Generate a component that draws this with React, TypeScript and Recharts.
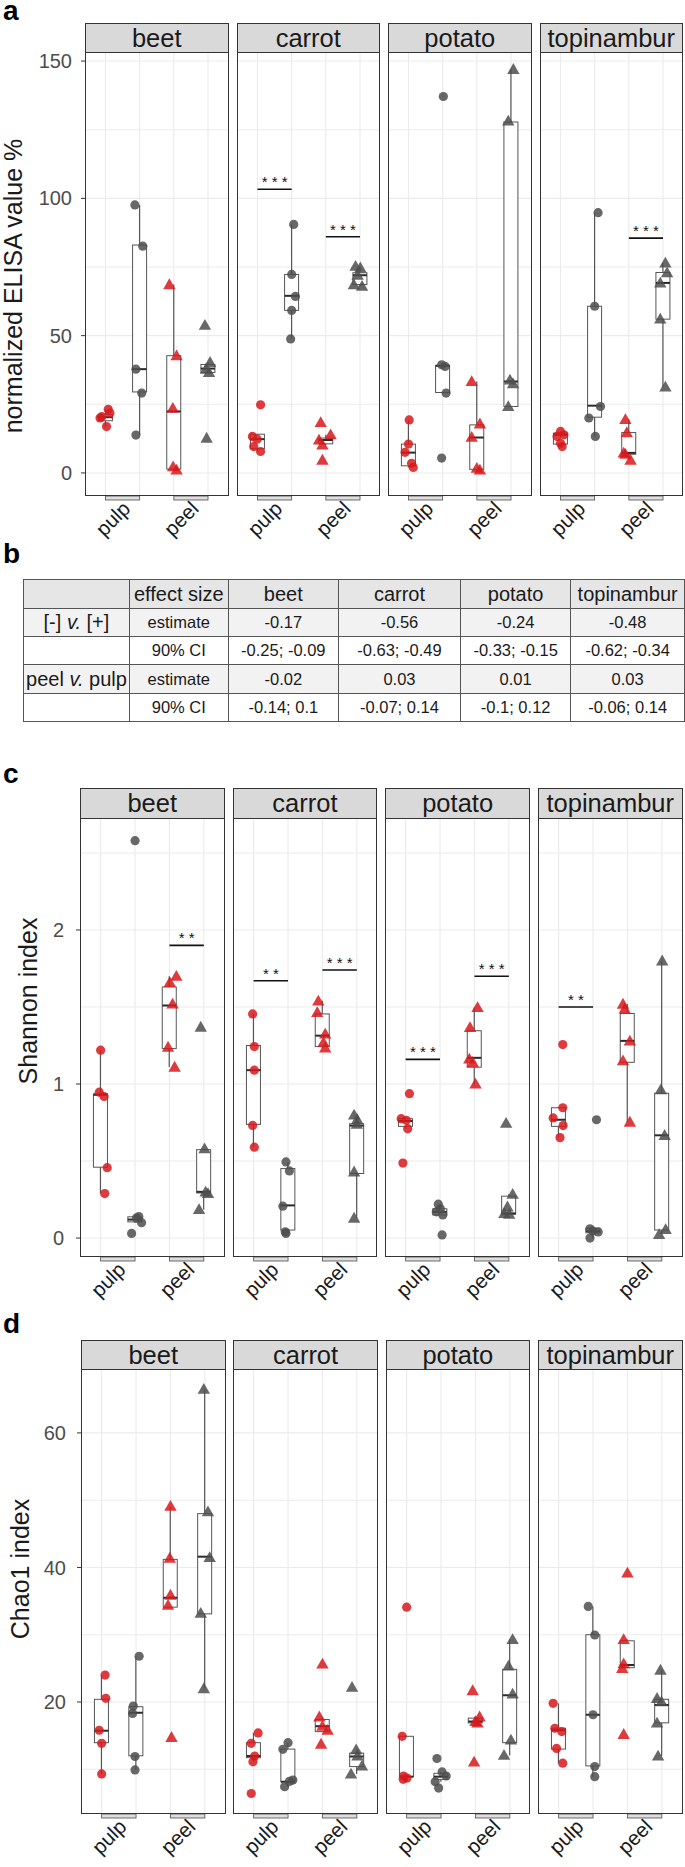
import React from 'react';
import { ComposedChart, Bar, Scatter, XAxis, YAxis, CartesianGrid, ReferenceLine } from 'recharts';

const FONT = '"Liberation Sans", Arial, Helvetica, sans-serif';
const RED = '#d7191c';
const GREY = '#4d4d4d';
const BOX = '#555555';

const facets = ['beet', 'carrot', 'potato', 'topinambur'];
const tissues = ['pulp', 'peel'];
const tissueTicks = [1.5, 3.5];
// x positions inside a facet: pulp [-], pulp [+], peel [-], peel [+]
const positions = [1, 2, 3, 4];

// a: normalized ELISA value %  (facet -> group -> points)
const elisaPoints = [
  [[20.5, 23.2, 21.8, 16.9, 20.0], [97.6, 82.6, 37.8, 29.1, 13.8], [68.6, 42.7, 23.6, 2.3, 1.1], [53.8, 40.3, 37.8, 36.6, 12.7]],
  [[24.8, 13.3, 12.3, 9.6, 7.8], [90.5, 72.3, 64.3, 59.2, 48.8], [18.4, 13.9, 12.0, 10.2, 4.7], [75.3, 74.7, 72.0, 68.6, 68.0]],
  [[19.3, 10.5, 7.5, 3.5, 2.0], [137.1, 39.4, 38.8, 29.1, 5.4], [33.3, 17.9, 13.0, 1.7, 1.1], [147.0, 128.2, 33.9, 32.5, 24.2]],
  [[15.1, 13.9, 13.3, 10.8, 9.6], [94.8, 60.7, 24.2, 20.0, 13.3], [19.5, 14.7, 7.3, 6.8, 4.7], [76.5, 72.9, 69.2, 56.1, 31.3]],
];
const elisaJitter = [
  [[-0.11, 0.08, 0.13, 0.03, -0.16], [-0.14, 0.09, -0.11, 0.06, -0.11], [-0.13, 0.08, -0.03, -0.02, 0.08], [-0.09, 0.06, -0.06, 0.03, -0.04]],
  [[0.09, -0.15, -0.01, -0.11, 0.09], [0.06, 0, 0.11, 0, -0.03], [-0.15, 0.14, -0.2, -0.1, -0.1], [-0.13, 0.01, -0.07, -0.18, 0.06]],
  [[0.02, 0, -0.1, 0.09, 0.14], [0.02, -0.03, 0.07, 0.1, -0.03], [-0.15, 0.09, -0.15, 0, 0.09], [0.07, -0.08, -0.03, 0.06, -0.08]],
  [[0, 0.1, -0.1, 0, 0.05], [0.1, 0, 0.17, -0.17, 0.02], [-0.1, -0.06, -0.15, -0.1, 0.05], [0.07, 0.12, -0.08, -0.08, 0.07]],
];
// [lower whisker, q1, median, q3, upper whisker]
const elisaBoxes = [
  [[16.9, 19.0, 20.3, 21.3, 23.2], [13.8, 29.5, 37.8, 83.0, 97.6], [1.1, 1.4, 22.4, 42.7, 68.6], [36.6, 36.6, 38.0, 39.5, 40.3]],
  [[7.8, 8.8, 12.3, 14.1, 14.2], [48.8, 59.2, 64.5, 72.3, 90.5], [10.2, 10.6, 12.0, 12.7, 13.9], [68.0, 68.6, 72.0, 72.9, 75.3]],
  [[2.0, 2.6, 7.4, 10.5, 19.3], [29.3, 29.3, 39.0, 39.2, 39.4], [1.1, 1.3, 12.9, 17.5, 33.3], [24.2, 24.2, 33.3, 127.8, 147.0]],
  [[9.6, 10.5, 13.9, 14.5, 15.1], [13.3, 20.3, 24.5, 60.7, 94.8], [4.7, 6.8, 7.3, 14.7, 19.5], [31.3, 56.0, 69.2, 73.0, 76.5]],
];
const elisaSig = [
  { facet: 1, from: 1, to: 2, y: 103.3, stars: '* * *' },
  { facet: 1, from: 3, to: 4, y: 86, stars: '* * *' },
  { facet: 3, from: 3, to: 4, y: 85.5, stars: '* * *' },
];

// c: Shannon index
const shannonPoints = [
  [[1.22, 0.947, 0.919, 0.457, 0.289], [2.58, 0.14, 0.13, 0.10, 0.03], [1.70, 1.66, 1.52, 1.24, 1.11], [1.37, 0.58, 0.30, 0.29, 0.186]],
  [[1.455, 1.243, 1.09, 0.731, 0.59], [0.494, 0.436, 0.207, 0.041, 0.03], [1.54, 1.465, 1.325, 1.27, 1.234], [0.80, 0.77, 0.74, 0.43, 0.13]],
  [[0.937, 0.775, 0.764, 0.71, 0.487], [0.22, 0.19, 0.17, 0.15, 0.02], [1.497, 1.368, 1.163, 1.141, 1.0], [0.746, 0.285, 0.203, 0.16, 0.155]],
  [[1.256, 0.846, 0.78, 0.73, 0.652], [0.768, 0.06, 0.045, 0.04, 0.0], [1.519, 1.487, 1.28, 1.152, 0.753], [1.80, 0.963, 0.667, 0.056, 0.024]],
];
const shannonJitter = [
  [[0, -0.04, 0.1, 0.19, 0.12], [0, 0.11, 0.04, 0.19, -0.1], [0.2, 0.01, 0.09, -0.04, 0.15], [-0.09, 0.02, 0.05, 0.12, -0.14]],
  [[-0.03, 0.02, 0.02, -0.03, 0.02], [-0.06, 0.04, -0.15, -0.08, -0.06], [-0.12, -0.15, 0.08, 0.03, 0.08], [-0.08, 0.01, 0, -0.08, -0.08]],
  [[0.11, -0.13, 0.02, 0.06, -0.08], [-0.05, 0.01, -0.11, 0.08, 0.06], [0.09, -0.13, -0.15, -0.05, 0.03], [-0.08, 0.11, -0.04, -0.13, 0.01]],
  [[0.12, 0.12, -0.16, 0.13, 0.04], [0.1, -0.09, 0, 0.15, -0.09], [-0.13, -0.08, 0.07, -0.13, 0.07], [0.01, -0.03, 0.08, 0.11, -0.08]],
];
const shannonBoxes = [
  [[0.289, 0.46, 0.93, 0.936, 1.22], [0.10, 0.105, 0.12, 0.138, 0.14], [1.11, 1.23, 1.51, 1.63, 1.70], [0.186, 0.293, 0.30, 0.574, 0.58]],
  [[0.59, 0.738, 1.09, 1.25, 1.455], [0.03, 0.052, 0.212, 0.451, 0.494], [1.234, 1.243, 1.314, 1.455, 1.54], [0.13, 0.419, 0.73, 0.742, 0.80]],
  [[0.71, 0.725, 0.76, 0.775, 0.78], [0.15, 0.15, 0.17, 0.19, 0.22], [1.0, 1.109, 1.17, 1.346, 1.497], [0.155, 0.155, 0.16, 0.272, 0.285]],
  [[0.652, 0.725, 0.768, 0.846, 0.85], [0.0, 0.034, 0.045, 0.063, 0.065], [0.753, 1.141, 1.28, 1.458, 1.519], [0.024, 0.052, 0.667, 0.94, 1.80]],
];
const shannonSig = [
  { facet: 0, from: 3, to: 4, y: 1.9, stars: '* *' },
  { facet: 1, from: 1, to: 2, y: 1.67, stars: '* *' },
  { facet: 1, from: 3, to: 4, y: 1.74, stars: '* * *' },
  { facet: 2, from: 1, to: 2, y: 1.16, stars: '* * *' },
  { facet: 2, from: 3, to: 4, y: 1.7, stars: '* * *' },
  { facet: 3, from: 1, to: 2, y: 1.5, stars: '* *' },
];

// d: Chao1 index
const chaoPoints = [
  [[24.0, 20.55, 15.8, 13.86, 9.3], [26.8, 19.4, 18.3, 11.9, 9.9], [49.1, 41.4, 35.9, 34.4, 14.75], [66.5, 48.3, 41.5, 33.2, 22.0]],
  [[15.4, 13.86, 11.97, 11.1, 6.4], [13.95, 12.96, 8.4, 8.2, 7.4], [25.65, 17.8, 16.4, 15.8, 13.75], [22.2, 12.9, 12.0, 10.5, 9.3]],
  [[34.1, 14.9, 9.0, 8.7, 8.5], [11.6, 9.6, 9.0, 8.15, 7.2], [21.7, 17.8, 17.1, 16.9, 11.1], [29.3, 25.35, 21.2, 14.35, 12.1]],
  [[19.8, 16.1, 15.6, 13.1, 10.9], [34.2, 29.96, 18.1, 10.4, 8.9], [39.2, 29.3, 25.7, 25.0, 15.2], [24.75, 20.55, 20.05, 16.9, 11.97]],
];
const chaoJitter = [
  [[0.1, 0.12, -0.07, 0, 0], [0.09, -0.08, -0.1, -0.03, -0.03], [0, -0.02, 0, -0.07, 0.03], [-0.03, 0.09, 0.14, -0.12, -0.03]],
  [[0.13, -0.07, 0.03, -0.02, -0.07], [0, -0.15, 0.14, 0.04, -0.1], [0, -0.09, 0, 0.15, -0.04], [-0.14, -0.02, 0.02, 0.15, -0.17]],
  [[0, -0.13, -0.09, 0.01, -0.1], [-0.12, 0.03, 0.15, -0.17, -0.07], [-0.08, 0.12, 0, 0.06, -0.04], [0.08, -0.04, 0.08, 0.03, -0.17]],
  [[-0.16, -0.11, 0.09, -0.06, 0.12], [-0.14, 0.05, 0, 0.05, 0.05], [0, -0.11, -0.11, -0.15, -0.11], [-0.04, -0.14, -0.01, -0.14, -0.11]],
];
const chaoBoxes = [
  [[9.3, 13.95, 15.73, 20.4, 24.0], [9.9, 12.0, 18.4, 19.3, 26.8], [34.1, 34.1, 35.5, 41.2, 49.1], [22.0, 33.1, 41.6, 48.0, 66.5]],
  [[11.1, 11.72, 11.97, 13.95, 15.4], [7.4, 8.15, 8.15, 13.0, 13.95], [15.6, 15.6, 16.4, 17.4, 17.8], [9.3, 10.4, 11.9, 12.4, 12.9]],
  [[8.5, 8.9, 8.9, 14.9, 15.0], [8.15, 8.5, 8.9, 9.4, 9.6], [16.9, 16.9, 17.1, 17.6, 17.8], [12.1, 13.95, 21.0, 24.85, 29.3]],
  [[10.9, 13.0, 15.8, 16.1, 19.8], [8.9, 10.5, 18.1, 30.0, 34.2], [25.0, 25.1, 25.5, 29.1, 29.3], [11.97, 16.9, 19.55, 20.4, 24.75]],
];
const chaoSig: { facet: number; from: number; to: number; y: number; stars: string }[] = [];

// b: effect size table
const tableHeader = ['', 'effect size', 'beet', 'carrot', 'potato', 'topinambur'];
const diffEstimate = ['-0.17', '-0.56', '-0.24', '-0.48'];
const diffCI = ['-0.25; -0.09', '-0.63; -0.49', '-0.33; -0.15', '-0.62; -0.34'];
const tissueEstimate = ['-0.02', '0.03', '0.01', '0.03'];
const tissueCI = ['-0.14; 0.1', '-0.07; 0.14', '-0.1; 0.12', '-0.06; 0.14'];

const X_AXIS_H = 62;
const Y_AXIS_W = 60;
const TOP_PAD = 12;

const panels = [
  {
    letter: 'a', letterY: 20, title: 'normalized ELISA value %', titleX: 22, titleY: 286,
    stripTop: 23, plotTop: 52, plotBottom: 496, lefts: [85, 236.5, 388, 539.5], facetW: 143.5,
    domain: [-8.4, 153.3], ticks: [0, 50, 100, 150], minor: [25, 75, 125], tickMargin: 9,
    points: elisaPoints, jitter: elisaJitter, boxes: elisaBoxes, sig: elisaSig,
  },
  {
    letter: 'c', letterY: 783, title: 'Shannon index', titleX: 36.5, titleY: 1001,
    stripTop: 788, plotTop: 818, plotBottom: 1257, lefts: [80, 232.7, 385.4, 538], facetW: 144.5,
    domain: [-0.123, 2.727], ticks: [0, 1, 2], minor: [0.5, 1.5, 2.5], tickMargin: 12,
    points: shannonPoints, jitter: shannonJitter, boxes: shannonBoxes, sig: shannonSig,
  },
  {
    letter: 'd', letterY: 1333, title: 'Chao1 index', titleX: 29, titleY: 1569,
    stripTop: 1340, plotTop: 1369, plotBottom: 1814, lefts: [81, 233.3, 385.6, 538], facetW: 144.5,
    domain: [3.35, 69.5], ticks: [20, 40, 60], minor: [10, 30, 50], tickMargin: 11,
    points: chaoPoints, jitter: chaoJitter, boxes: chaoBoxes, sig: chaoSig,
  },
];

const BoxShape = (props: any) => {
  const { x, y, width, height, payload } = props;
  const { lo, q1, med, q3, hi } = payload;
  const top = Math.min(y, y + height);
  const h = Math.abs(height);
  const span = hi - lo || 1;
  const py = (v: number) => top + ((hi - v) / span) * h;
  const cx = x + width / 2;
  return (
    <g>
      <line x1={cx} x2={cx} y1={py(hi)} y2={py(lo)} stroke={BOX} strokeWidth={1.2} />
      <rect x={x} y={py(q3)} width={width} height={Math.max(py(q1) - py(q3), 0.5)} fill="#fff" stroke={BOX} strokeWidth={1} />
      <line x1={x} x2={x + width} y1={py(med)} y2={py(med)} stroke="#2a2a2a" strokeWidth={2} />
    </g>
  );
};

const dotShape = (color: string) => (p: any) => (
  <circle cx={p.cx} cy={p.cy} r={4.6} fill={color} fillOpacity={0.85} />
);
const triShape = (color: string) => (p: any) => (
  <polygon
    points={`${p.cx},${p.cy - 6.2} ${p.cx + 6.2},${p.cy + 4.6} ${p.cx - 6.2},${p.cy + 4.6}`}
    fill={color}
    fillOpacity={0.85}
  />
);
const groupShapes = [dotShape(RED), dotShape(GREY), triShape(RED), triShape(GREY)];

const TissueTick = (props: any) => {
  const { x, y, payload, half } = props;
  const label = tissues[tissueTicks.indexOf(payload.value)];
  const ax = x + 9;
  const ay = y + 14;
  return (
    <g>
      <rect x={x - half} y={y} width={half * 2} height={4} fill="#dedede" stroke="#4d4d4d" strokeWidth={0.8} />
      <text x={ax} y={ay} textAnchor="end" transform={`rotate(-45 ${ax} ${ay})`} fontSize={20.5} fill="#1a1a1a" fontFamily={FONT}>
        {label}
      </text>
    </g>
  );
};

const Facet = ({ cfg, fi }: { cfg: any; fi: number }) => {
  const showY = fi === 0;
  const yW = showY ? Y_AXIS_W : 0;
  const plotH = cfg.plotBottom - cfg.plotTop;
  const unit = cfg.facetW / 4.2;
  const boxes = cfg.boxes[fi];
  const rows = boxes.map((b: number[], k: number) => ({
    pos: String(positions[k]),
    range: [b[0], b[4]],
    lo: b[0], q1: b[1], med: b[2], q3: b[3], hi: b[4],
  }));
  const sig = cfg.sig.filter((s: any) => s.facet === fi);
  return (
    <div style={{ position: 'absolute', left: cfg.lefts[fi] - yW, top: cfg.plotTop - TOP_PAD }}>
      <ComposedChart
        width={cfg.facetW + yW}
        height={plotH + X_AXIS_H + TOP_PAD}
        data={rows}
        margin={{ top: TOP_PAD, right: 0, bottom: 0, left: 0 }}
      >
        <CartesianGrid
          xAxisId="n"
          yAxisId="y"
          horizontalValues={[...cfg.minor, ...cfg.ticks]}
          verticalValues={positions}
          stroke="#ebebeb"
          strokeWidth={1.1}
        />
        <XAxis
          xAxisId="n"
          dataKey="x"
          type="number"
          domain={[0.4, 4.6]}
          allowDataOverflow
          ticks={tissueTicks}
          interval={0}
          height={X_AXIS_H}
          axisLine={false}
          tickLine={false}
          tickSize={0}
          tickMargin={0}
          tick={<TissueTick half={unit / 2} />}
        />
        <XAxis xAxisId="c" dataKey="pos" type="category" hide height={0} padding={{ left: cfg.facetW / 42, right: cfg.facetW / 42 }} />
        <YAxis
          yAxisId="y"
          type="number"
          domain={cfg.domain}
          allowDataOverflow
          ticks={cfg.ticks}
          interval={0}
          width={yW}
          hide={!showY}
          axisLine={false}
          tickSize={4}
          tickMargin={cfg.tickMargin}
          tickLine={{ stroke: '#333' }}
          tick={{ fontSize: 20, fill: '#4d4d4d', fontFamily: FONT }}
        />
        <Bar xAxisId="c" yAxisId="y" dataKey="range" barSize={14} shape={BoxShape} isAnimationActive={false} />
        {cfg.points[fi].map((vals: number[], k: number) => (
          <Scatter
            key={k}
            xAxisId="n"
            yAxisId="y"
            dataKey="y"
            data={vals.map((v, i) => ({ x: positions[k] + cfg.jitter[fi][k][i], y: v }))}
            shape={groupShapes[k]}
            isAnimationActive={false}
          />
        ))}
        {sig.map((s: any, i: number) => (
          <ReferenceLine
            key={i}
            xAxisId="n"
            yAxisId="y"
            segment={[{ x: s.from, y: s.y }, { x: s.to, y: s.y }]}
            stroke="#111"
            strokeWidth={1.6}
            label={{ value: s.stars, position: 'top', offset: 2, fontSize: 15, fill: '#111', fontFamily: FONT }}
          />
        ))}
      </ComposedChart>
      <div
        style={{
          position: 'absolute', left: yW, top: TOP_PAD, width: cfg.facetW, height: plotH,
          border: '1px solid #333', boxSizing: 'border-box', pointerEvents: 'none',
        }}
      />
    </div>
  );
};

const Strip = ({ cfg, fi }: { cfg: any; fi: number }) => (
  <div
    style={{
      position: 'absolute', left: cfg.lefts[fi], top: cfg.stripTop, width: cfg.facetW,
      height: cfg.plotTop - cfg.stripTop + 1, background: '#d9d9d9', border: '1px solid #333',
      boxSizing: 'border-box', display: 'flex', alignItems: 'center', justifyContent: 'center',
      fontSize: 25.5, color: '#1a1a1a', fontFamily: FONT,
    }}
  >
    {facets[fi]}
  </div>
);

const colWidths = [105, 98, 110, 122, 110, 113];
const rowHeights = [29, 28, 28, 29, 28];

const EffectTable = () => {
  const rows = [
    { bg: '#e6e6e6', cells: tableHeader, big: true },
    { bg: '#f2f2f2', cells: ['[-] v. [+]', 'estimate', ...diffEstimate] },
    { bg: '#ffffff', cells: ['', '90% CI', ...diffCI] },
    { bg: '#f2f2f2', cells: ['peel v. pulp', 'estimate', ...tissueEstimate] },
    { bg: '#ffffff', cells: ['', '90% CI', ...tissueCI] },
  ];
  const renderLabel = (t: string) => {
    const m = t.split(' v. ');
    if (m.length !== 2) return t;
    return (
      <>
        {m[0]} <i>v.</i> {m[1]}
      </>
    );
  };
  return (
    <table
      style={{
        position: 'absolute', left: 23, top: 579, borderCollapse: 'collapse', tableLayout: 'fixed',
        fontFamily: FONT, color: '#1a1a1a',
      }}
    >
      <tbody>
        {rows.map((r, ri) => (
          <tr key={ri} style={{ height: rowHeights[ri], background: r.bg }}>
            {r.cells.map((c, ci) => (
              <td
                key={ci}
                style={{
                  width: colWidths[ci], padding: 0, border: '1px solid #555', textAlign: 'center',
                  fontSize: r.big || ci === 0 ? 20 : 16.5, whiteSpace: 'nowrap', overflow: 'hidden',
                }}
              >
                {ci === 0 ? renderLabel(c) : c}
              </td>
            ))}
          </tr>
        ))}
      </tbody>
    </table>
  );
};

export default function App() {
  return (
    <div style={{ position: 'absolute', left: 0, top: 0, width: 685, height: 1867, overflow: 'hidden', background: '#fff', fontFamily: FONT }}>
      <svg width={685} height={1867} style={{ position: 'absolute', left: 0, top: 0 }}>
        {panels.map((p) => (
          <g key={p.letter}>
            <text x={3} y={p.letterY} fontSize={28} fontWeight="bold" fontFamily={FONT} fill="#000">{p.letter}</text>
            <text transform={`translate(${p.titleX},${p.titleY}) rotate(-90)`} textAnchor="middle" fontSize={25} fontFamily={FONT} fill="#1a1a1a">
              {p.title}
            </text>
          </g>
        ))}
        <text x={3} y={563} fontSize={28} fontWeight="bold" fontFamily={FONT} fill="#000">b</text>
      </svg>
      {panels.map((p) =>
        facets.map((f, fi) => (
          <React.Fragment key={p.letter + f}>
            <Facet cfg={p} fi={fi} />
            <Strip cfg={p} fi={fi} />
          </React.Fragment>
        ))
      )}
      <EffectTable />
    </div>
  );
}
